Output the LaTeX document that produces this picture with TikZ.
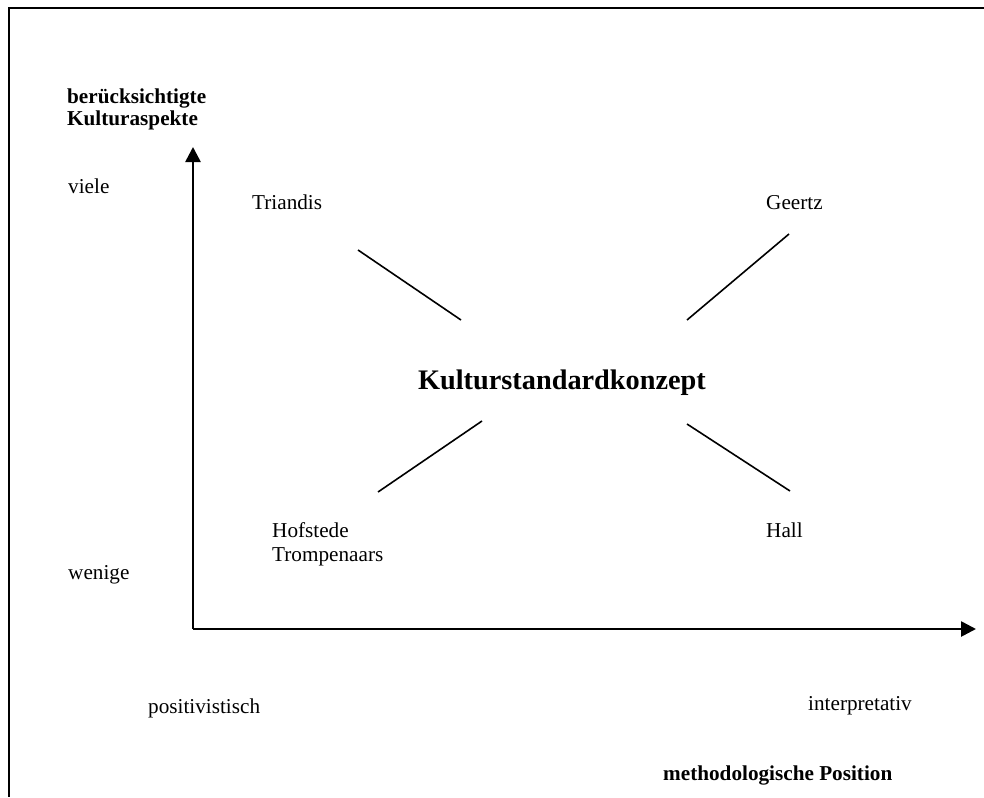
\documentclass[tikz,border=0pt]{standalone}
\usepackage{fontspec}
\setmainfont{Liberation Serif}
\usetikzlibrary{arrows.meta}
\begin{document}
\begin{tikzpicture}[x=1pt,y=-1pt,
  lbl/.style={anchor=base west,inner sep=0pt,font=\fontsize{21.2}{25}\selectfont},
  blbl/.style={lbl,font=\fontsize{21.2}{25}\selectfont\bfseries},
  axis/.style={line width=2.6pt,-{Triangle[length=15pt,width=15pt]}},
  spoke/.style={line width=1.6pt}]
\useasboundingbox (0,0) rectangle (984,797);
% frame
\draw[line width=2pt] (984,8) -- (9,8) -- (9,797);
% axes
\coordinate (o) at (193,629);
\coordinate (ytip) at (193,147);
\coordinate (xtip) at (976,629);
\draw[axis] (o) -- (ytip);
\draw[axis] (o) -- (xtip);
% axis titles and scale labels
\node[blbl] (yt1) at (67,104) {berücksichtigte};
\node[blbl] (yt2) at (67,125) {Kulturaspekte};
\node[lbl] (viele) at (68,193) {viele};
\node[lbl] (wenige) at (68,579) {wenige};
\node[lbl] (pos) at (148,713) {positivistisch};
\node[lbl] (int) at (808,710) {interpretativ};
\node[blbl] (xt) at (663,780) {methodologische Position};
% centre and the four approaches
\node[anchor=base,inner sep=0pt,font=\fontsize{28.3}{32}\selectfont\bfseries] (ks) at (562,389) {Kulturstandardkonzept};
\node[lbl] (tri) at (252,209) {Triandis};
\node[lbl] (gee) at (766,209) {Geertz};
\node[lbl] (hof) at (272,537) {Hofstede};
\node[lbl] (tro) at (272,561) {Trompenaars};
\node[lbl] (hall) at (766,537) {Hall};
% spokes
\coordinate (s1a) at (358,250); \coordinate (s1b) at (461,320);
\coordinate (s2a) at (789,234); \coordinate (s2b) at (687,320);
\coordinate (s3a) at (378,492); \coordinate (s3b) at (482,421);
\coordinate (s4a) at (687,424); \coordinate (s4b) at (790,491);
\draw[spoke] (s1a) -- (s1b);
\draw[spoke] (s2a) -- (s2b);
\draw[spoke] (s3a) -- (s3b);
\draw[spoke] (s4a) -- (s4b);
\end{tikzpicture}
\end{document}
